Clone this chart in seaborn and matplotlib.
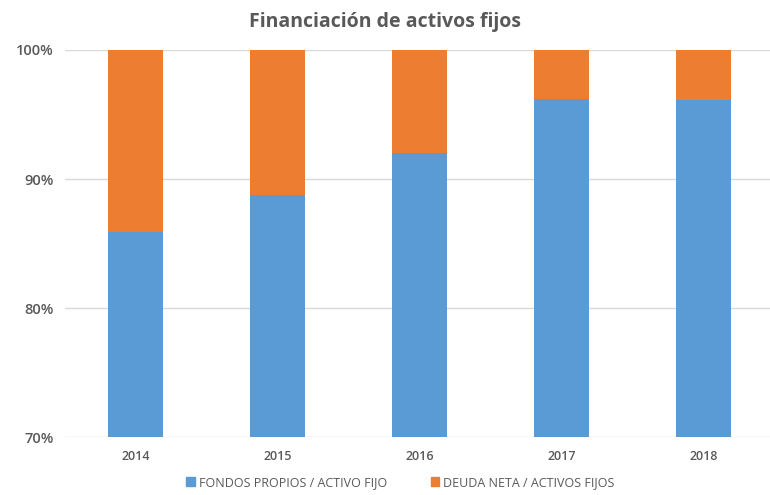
import matplotlib
matplotlib.use('Agg')
import matplotlib.pyplot as plt
import pandas as pd
import seaborn as sns
from matplotlib.patches import Patch
from matplotlib.ticker import FuncFormatter

# Data
years = ['2014', '2015', '2016', '2017', '2018']
fondos_propios = [85.9, 88.8, 92.0, 96.2, 96.1]
deuda_neta = [100 - v for v in fondos_propios]

df = pd.DataFrame({'year': years, 'fondos': fondos_propios, 'deuda': deuda_neta})
df['total'] = df['fondos'] + df['deuda']

sns.set_style('white')
plt.rcParams['font.family'] = ['Open Sans', 'DejaVu Sans']

blue = '#5B9BD5'
orange = '#ED7D31'
grey_text = '#595959'

fig = plt.figure(figsize=(7.7, 4.95), dpi=100)
ax = fig.add_axes([0.084, 0.117, 0.922, 0.782])

# stacked: orange total behind, blue on top
sns.barplot(ax=ax, data=df, x='year', y='total', color=orange, width=0.39,
            saturation=1, linewidth=0, zorder=2)
sns.barplot(ax=ax, data=df, x='year', y='fondos', color=blue, width=0.39,
            saturation=1, linewidth=0, zorder=3)

ax.set_ylim(70, 100)
ax.set_xlim(-0.5, 4.5)
ax.set_yticks([70, 80, 90, 100])
ax.yaxis.set_major_formatter(FuncFormatter(lambda v, p: f'{v:.0f}%'))
ax.grid(axis='y', color='#D9D9D9', linewidth=1, zorder=0)
ax.set_axisbelow(True)
sns.despine(ax=ax, left=True, bottom=True, top=True, right=True)
ax.set_xlabel('')
ax.set_ylabel('')
ax.tick_params(axis='y', length=0, labelsize=10.5, labelcolor=grey_text, pad=8)
ax.tick_params(axis='x', length=0, labelsize=9, labelcolor=grey_text, pad=9)
for lbl in ax.get_yticklabels():
    lbl.set_fontweight('semibold')
for lbl in ax.get_xticklabels():
    lbl.set_fontweight('semibold')

fig.suptitle('Financiación de activos fijos', x=0.5, y=0.975, fontsize=14,
             fontweight='bold', color=grey_text)

handles = [Patch(color=blue, label='FONDOS PROPIOS / ACTIVO FIJO'),
           Patch(color=orange, label='DEUDA NETA / ACTIVOS FIJOS')]
leg = fig.legend(handles=handles, loc='center', bbox_to_anchor=(0.52, 0.025), ncol=2,
                 frameon=False, fontsize=9, handlelength=0.7, handleheight=0.7,
                 handletextpad=0.3, columnspacing=3.5)
for t in leg.get_texts():
    t.set_color(grey_text)

fig.savefig('out.png', dpi=100)
